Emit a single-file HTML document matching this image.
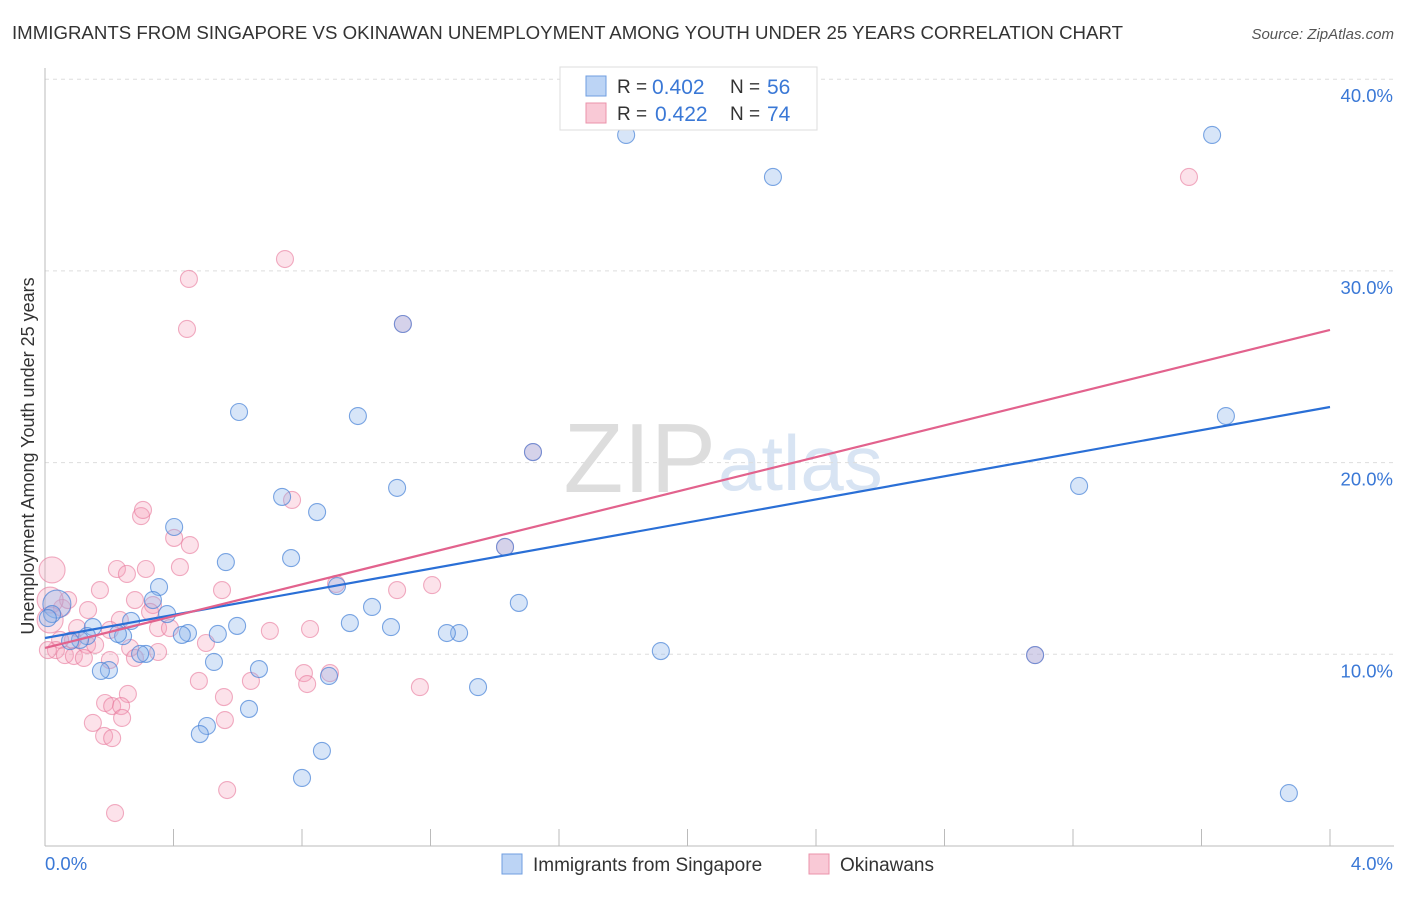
<!DOCTYPE html>
<html><head><meta charset="utf-8"><style>
body{margin:0;background:#fff;font-family:"Liberation Sans",sans-serif}
svg text{font-family:"Liberation Sans",sans-serif}
</style></head><body>
<svg id="c" width="1406" height="892">
<text x="12" y="39" font-size="18.6" fill="#333" textLength="1111" lengthAdjust="spacingAndGlyphs">IMMIGRANTS FROM SINGAPORE VS OKINAWAN UNEMPLOYMENT AMONG YOUTH UNDER 25 YEARS CORRELATION CHART</text>
<text x="1394" y="39" font-size="15" fill="#555" font-style="italic" text-anchor="end">Source: ZipAtlas.com</text>
<text x="716" y="492" font-size="98" fill="#ddd" text-anchor="end" font-family="Liberation Serif">ZIP</text>
<text x="718" y="490" font-size="78" fill="#d8e4f3">atlas</text>
<g id="grid"></g><g id="pts"></g><g id="lines"></g>
<text transform="translate(34,456) rotate(-90)" font-size="18" fill="#333" text-anchor="middle">Unemployment Among Youth under 25 years</text>
<g>
<rect x="560" y="67" width="257" height="63" fill="#fff" stroke="#ddd"/>
<rect x="586" y="76" width="20" height="20" fill="#bcd4f5" stroke="#6f9ee0"/>
<rect x="586" y="103" width="20" height="20" fill="#f9c9d6" stroke="#eb93ab"/>
<text x="617" y="93" font-size="19" fill="#333">R =</text>
<text x="652" y="94" font-size="21" fill="#3a78d6">0.402</text>
<text x="730" y="93" font-size="19" fill="#333">N =</text>
<text x="767" y="94" font-size="21" fill="#3a78d6">56</text>
<text x="617" y="120" font-size="19" fill="#333">R =</text>
<text x="655" y="121" font-size="21" fill="#3a78d6">0.422</text>
<text x="730" y="120" font-size="19" fill="#333">N =</text>
<text x="767" y="121" font-size="21" fill="#3a78d6">74</text>
</g>
<g>
<rect x="502" y="854" width="20" height="20" fill="#bcd4f5" stroke="#6f9ee0"/>
<text x="533" y="871" font-size="19" fill="#333">Immigrants from Singapore</text>
<rect x="809" y="854" width="20" height="20" fill="#f9c9d6" stroke="#eb93ab"/>
<text x="840" y="871" font-size="19" fill="#333">Okinawans</text>
</g>
</svg>
<script>
const xTicks=[0,0.4,0.8,1.2,1.6,2,2.4,2.8,3.2,3.6,4];
const yTicks=[10,20,30,40];
const yTickLabels=["10.0%","20.0%","30.0%","40.0%"];
const blueX=[1.809,2.266,3.633,3.872,3.676,3.219,1.917,1.475,1.348,1.289,1.251,1.077,1.018,0.949,0.974,1.096,0.909,0.884,0.862,0.8,0.847,0.766,0.738,0.666,0.635,0.604,0.598,0.563,0.538,0.526,0.504,0.482,0.445,0.426,0.402,0.38,0.355,0.336,0.314,0.296,0.268,0.243,0.227,0.199,0.174,0.149,0.131,0.109,0.078,0.037,0.022,0.009,1.114,1.519,1.432,3.082];
const blueY=[37.09,34.9,37.09,2.76,22.43,18.78,10.17,12.68,8.29,11.11,11.11,11.42,12.47,11.63,22.43,18.68,13.56,8.87,4.96,3.55,17.42,15.02,18.21,9.23,7.15,22.64,11.48,14.81,11.06,9.6,6.26,5.84,11.11,11.01,16.64,12.1,13.51,12.83,10.02,10.02,11.74,10.95,11.06,9.18,9.13,11.42,10.95,10.75,10.69,12.62,12.1,11.89,27.23,20.55,15.6,9.96];
const pinkX=[3.561,0.747,0.448,0.442,1.114,1.519,1.432,3.082,0.769,0.299,0.305,0.402,0.451,0.022,0.224,0.255,0.314,0.42,0.551,0.171,0.906,1.205,1.096,0.336,0.134,0.233,0.352,0.389,0.1,0.087,0.131,0.156,0.047,0.034,0.062,0.09,0.121,0.265,0.352,0.7,0.825,0.501,0.28,0.202,0.009,0.258,0.187,0.209,0.237,0.149,0.24,0.184,0.209,0.479,0.641,0.557,0.806,0.887,0.816,1.167,0.56,0.567,0.218,0.053,0.072,0.202,0.28,0.327,0.016,0.016];
const pinkY=[34.9,30.62,29.58,26.97,27.23,20.55,15.6,9.96,18.05,17.21,17.53,16.07,15.7,14.4,14.45,14.19,14.45,14.55,13.35,13.35,13.67,13.61,13.35,12.57,12.31,11.79,11.37,11.37,11.37,10.75,10.49,10.49,10.75,10.22,9.96,9.91,9.81,10.33,10.12,11.22,11.32,10.59,9.81,9.7,10.22,7.93,7.46,7.3,7.3,6.42,6.68,5.74,5.63,8.61,8.61,7.77,9.02,9.02,8.45,8.29,6.57,2.92,1.72,12.42,12.83,11.27,12.83,12.21,12.83,11.79];
const blueTrend=[10.85,22.9];
const pinkTrend=[10.33,26.92];
const NS="http://www.w3.org/2000/svg";
const X=v=>45+v/4*1285, Y=v=>846-v*19.17;
function mk(t,a,p){const e=document.createElementNS(NS,t);for(const k in a)e.setAttribute(k,a[k]);p.appendChild(e);return e;}
const grid=document.getElementById('grid');
yTicks.forEach((t,i)=>{
 const l=mk('line',{x1:45,x2:1394,y1:Y(t),y2:Y(t),stroke:'#ddd','stroke-dasharray':'4,4'},grid);
 
 
 const tx=mk('text',{x:1393,y:Y(t)+23,'font-size':18.5,fill:'#3a78d6','text-anchor':'end'},grid);
 tx.textContent=yTickLabels[i];
 
 
});
const ax=mk('line',{x1:45,x2:1394,y1:846,y2:846,stroke:'#bbb'},grid);


const ay=mk('line',{x1:45,x2:45,y1:68,y2:846,stroke:'#bbb'},grid);


xTicks.forEach(t=>{
 const l=mk('line',{x1:X(t),x2:X(t),y1:829,y2:846,stroke:'#bbb'},grid);
 
 
});
[[0,"0.0%","start",45],[4,"4.0%","end",1393]].forEach(d=>{
 const tx=mk('text',{x:d[3],y:870,'font-size':18.5,fill:'#3a78d6','text-anchor':d[2]},grid);
 tx.textContent=d[1];
 
 
});
const pts=document.getElementById('pts');
pinkX.forEach((x,i)=>{
 const c=mk('circle',{cx:X(x),cy:Y(pinkY[i]),r:(x<0.03&&pinkY[i]>11.5)?13:8.5,fill:'rgba(245,160,185,0.3)',stroke:'rgba(232,120,155,0.6)','stroke-width':1.1},pts);
 
 
});
blueX.forEach((x,i)=>{
 const c=mk('circle',{cx:X(x),cy:Y(blueY[i]),r:(i==49)?14:8.5,fill:'rgba(140,180,235,0.35)',stroke:'rgba(70,130,215,0.7)','stroke-width':1.1},pts);
 
 
});
const lines=document.getElementById('lines');
const bl=mk('line',{x1:X(0),x2:X(4),y1:Y(blueTrend[0]),y2:Y(blueTrend[1]),stroke:'#2a6fd6','stroke-width':2.2},lines);


const pl=mk('line',{x1:X(0),x2:X(4),y1:Y(pinkTrend[0]),y2:Y(pinkTrend[1]),stroke:'#e2628d','stroke-width':2.2},lines);


</script>
</body></html>
